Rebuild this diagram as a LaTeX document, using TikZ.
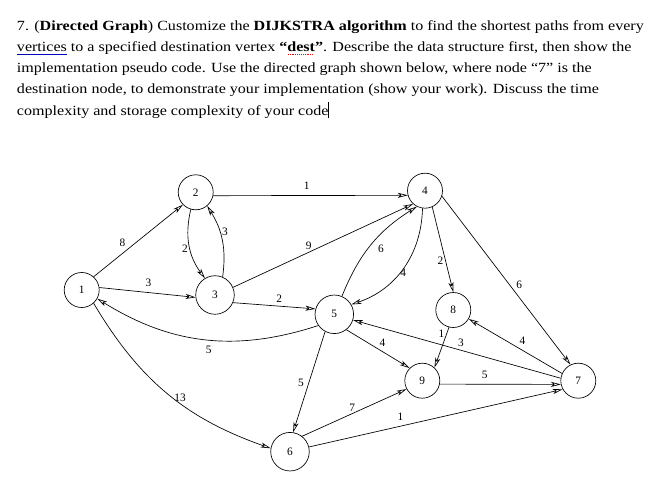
\documentclass[tikz,border=0pt]{standalone}
\usepackage{fontspec}
\setmainfont{Liberation Serif}[Ligatures=NoCommon]
\newfontfamily\wordfont{Liberation Serif}[Ligatures=NoCommon, FakeStretch=1.148]
\usetikzlibrary{arrows.meta}

\newlength{\ulwd}
\newcommand{\blueul}[1]{\settowidth{\ulwd}{#1}\rlap{\textcolor{blue!75!black}{\rule[-2.2pt]{\ulwd}{0.5pt}}}#1}
\newcommand{\redwave}[1]{\settowidth{\ulwd}{#1}\rlap{\raisebox{-2.4pt}{\textcolor{red}{\leaders\hbox to 1.4pt{\hss\rule{0.7pt}{0.6pt}\hss}\hskip\ulwd}}}#1}

\begin{document}
\begin{tikzpicture}[x=0.75pt, y=0.75pt,
            vertex/.style={draw, circle, line width=0.5pt, minimum size=26.25pt, inner sep=0pt, font=\fontsize{8.5}{10}\selectfont},
            bigvertex/.style={vertex, minimum size=28.9pt},
            arrowline/.style={-{Stealth[open, length=7.5pt, width=3.8pt, inset=2pt]}, line width=0.5pt},
            wlabel/.style={font=\fontsize{8.5}{10}\selectfont, inner sep=1.5pt},
            textline/.style={anchor=base west, inner sep=0pt, font=\wordfont\fontsize{10.5}{12}\selectfont}
        ]
            \useasboundingbox (0,0) rectangle (671,-484);

            % question text
            \node[textline] (line1) at (16.7,-30.7) {7. (\textbf{Directed Graph}) Customize the \textbf{DIJKSTRA algorithm} to find the shortest paths from every};
            \node[textline] (line2) at (16.7,-51.8) {\blueul{vertices} to a specified destination vertex \textbf{“\redwave{dest}”}. Describe the data structure first, then show the};
            \node[textline] (line3) at (16.7,-72.9) {implementation pseudo code. Use the directed graph shown below, where node “7” is the};
            \node[textline] (line4) at (16.7,-94) {destination node, to demonstrate your implementation (show your work). Discuss the time};
            \node[textline] (line5) at (16.7,-115.1) {complexity and storage complexity of your code\rule[-2.5pt]{0.5pt}{12pt}};

            % vertices
            \node[vertex] (v1) at (81.7,-290) {1};
            \node[vertex] (v2) at (195.7,-192.3) {2};
            \node[bigvertex] (v3) at (215,-295) {3};
            \node[vertex] (v4) at (425,-190.7) {4};
            \node[bigvertex] (v5) at (334.3,-314.3) {5};
            \node[bigvertex] (v6) at (290,-451.7) {6};
            \node[vertex] (v7) at (578.3,-380.7) {7};
            \node[vertex] (v8) at (453.3,-310) {8};
            \node[vertex] (v9) at (422.3,-380.7) {9};

            % straight arcs
            \draw[arrowline] (v1.48) -- (v2.224) node[wlabel, pos=0.38, above left] {8};
            \draw[arrowline] (v1.8) -- (v3.187) node[wlabel, pos=0.51, above=2.5pt] {3};
            \draw[arrowline] (v2.349) -- (v4.195) node[wlabel, pos=0.48, above=2.5pt] {1};
            \draw[arrowline] (v3.23) -- (v4.228) node[wlabel, pos=0.42, above] {9};
            \draw[arrowline] (v3.337) -- (v5.164) node[wlabel, pos=0.56, above=1pt] {2};
            \draw[arrowline] (v4.294) -- (v8.90) node[wlabel, pos=0.63, left] {2};
            \draw[arrowline] (v4.342) -- (v7.116) node[wlabel, pos=0.56, above right] {6};
            \draw[arrowline] (v5.308) -- (v9.135) node[wlabel, pos=0.49, above right] {4};
            \draw[arrowline] (v5.242) -- (v6.81) node[wlabel, pos=0.51, left=2pt] {5};
            \draw[arrowline] (v7.172) -- (v5.343) node[wlabel, pos=0.48, above=1pt] {3};
            \draw[arrowline] (v7.156) -- (v8.330) node[wlabel, pos=0.48, above right] {4};
            \draw[arrowline] (v8.256) -- (v9.47) node[wlabel, pos=0.17, left] {1};
            \draw[arrowline] (v9.349) -- (v7.192) node[wlabel, pos=0.37, above=2.5pt] {5};
            \draw[arrowline] (v6.52) -- (v9.208) node[wlabel, pos=0.48, above] {7};
            \draw[arrowline] (v6.14) -- (v7.209) node[wlabel, pos=0.36, above=2.5pt] {1};

            % bent arcs
            \draw[arrowline] (v2.254) to[bend right=25] node[wlabel, pos=0.55, left] {2} (v3.121);
            \draw[arrowline] (v3.67) to[bend right=20] node[wlabel, pos=0.62, right] {3} (v2.310);
            \draw[arrowline] (v5.67) to[bend left=18] node[wlabel, pos=0.45, right=6pt] {6} (v4.243);
            \draw[arrowline] (v4.262) to[bend left=35] node[wlabel, pos=0.55, right=-1pt] {4} (v5.30);
            \draw[arrowline] (v5.215) to[bend left=25] node[wlabel, pos=0.48, below=3pt] {5} (v1.331);
            \draw[arrowline] (v1.312) to[bend right=20] node[wlabel, pos=0.55, above right=-3pt] {13} (v6.170);

        \end{tikzpicture}
\end{document}
